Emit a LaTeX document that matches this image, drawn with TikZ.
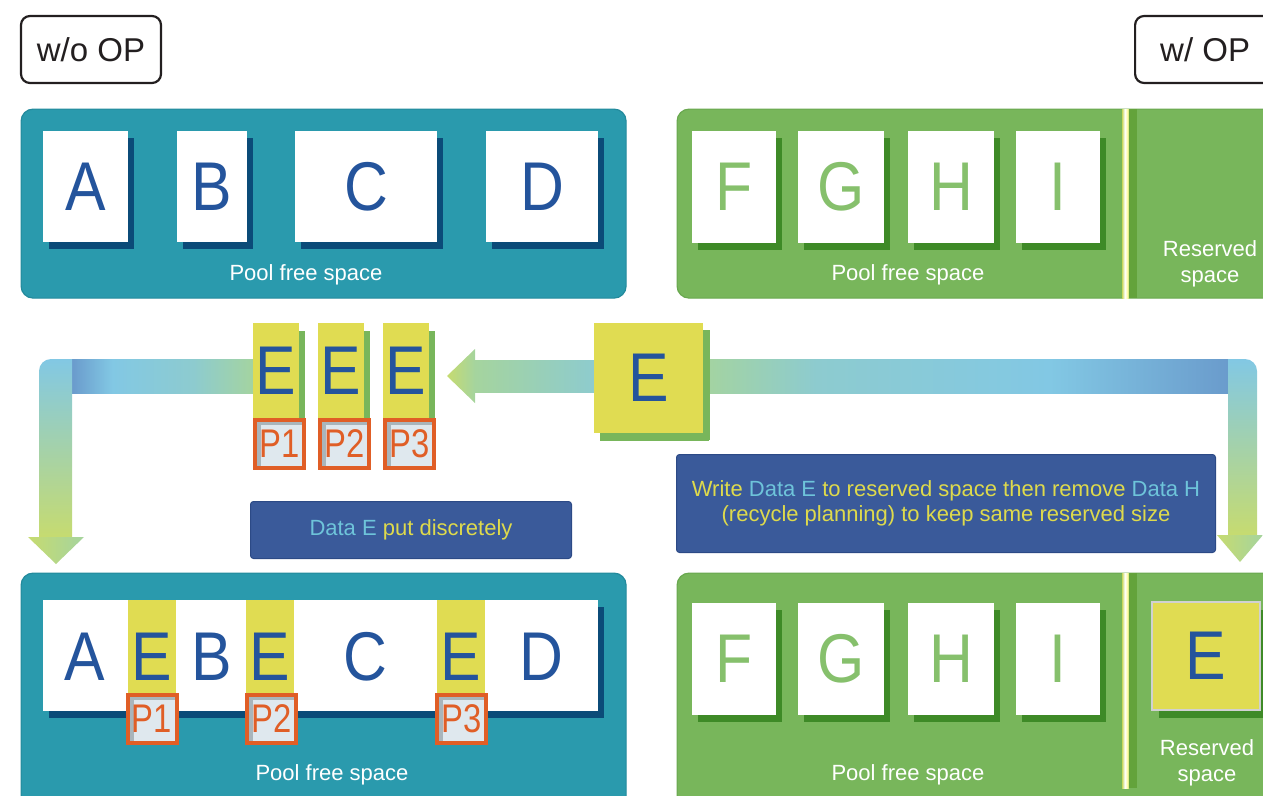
\documentclass[tikz,border=0pt]{standalone}
\usepackage{fontspec}
\setmainfont{Liberation Sans}
\usetikzlibrary{shadows}

\definecolor{poolteal}{HTML}{2A9AAD}
\definecolor{pooltealedge}{HTML}{238A9C}
\definecolor{poolgreen}{HTML}{78B65B}
\definecolor{poolgreenedge}{HTML}{69A84F}
\definecolor{shadowblue}{HTML}{0B4B78}
\definecolor{shadowgreen}{HTML}{3E8A27}
\definecolor{letterblue}{HTML}{24549C}
\definecolor{lettergreen}{HTML}{86C06C}
\definecolor{datayellow}{HTML}{E0DC52}
\definecolor{porange}{HTML}{E05E26}
\definecolor{pfill}{HTML}{DFE8EE}
\definecolor{pgray}{HTML}{A9B5BB}
\definecolor{notebg}{HTML}{3A5A9A}
\definecolor{noteedge}{HTML}{2C4A86}
\definecolor{notecyan}{HTML}{6EC4DA}
\definecolor{noteyellow}{HTML}{DEDA4C}
\definecolor{bandblue}{HTML}{6A9BCC}
\definecolor{bandsky}{HTML}{82C8E4}
\definecolor{bandteal}{HTML}{8DCBCF}
\definecolor{bandlime}{HTML}{C6DB70}
\definecolor{bandmint}{HTML}{A5D49E}
\definecolor{divlight}{HTML}{C8D85E}
\definecolor{divdark}{HTML}{63A33B}
\definecolor{tagblack}{HTML}{231F20}

% gradients of the horizontal flow bands (visible range 25bp..75bp)
\pgfdeclarehorizontalshading{bandleft}{100bp}{color(0bp)=(bandblue); color(25bp)=(bandblue);
  color(36bp)=(bandsky); color(58bp)=(bandteal); color(75bp)=(bandmint); color(100bp)=(bandmint)}
\pgfdeclarehorizontalshading{bandright}{100bp}{color(0bp)=(bandmint); color(25bp)=(bandmint);
  color(36bp)=(bandteal); color(58bp)=(bandsky); color(75bp)=(bandblue); color(100bp)=(bandblue)}
\pgfdeclarehorizontalshading{divstripe}{100bp}{color(0bp)=(divlight); color(25bp)=(divlight);
  color(45bp)=(white); color(60bp)=(white!70!yellow); color(75bp)=(divlight); color(100bp)=(divlight)}

\newcommand{\bigltr}[1]{\scalebox{0.88}[1]{\fontsize{69}{69}\selectfont #1}}
\newcommand{\pltr}[1]{\scalebox{0.82}[1]{\fontsize{40}{40}\selectfont #1}}

\begin{document}
\begin{tikzpicture}[x=1pt,y=1pt,
  tag/.style={draw=tagblack, line width=2.2pt, rounded corners=9pt, fill=white,
    minimum width=140pt, minimum height=67pt, inner sep=0pt, text=tagblack,
    font=\fontsize{33}{33}\selectfont},
  tealpool/.style={fill=poolteal, draw=pooltealedge, line width=1.2pt,
    rounded corners=12pt, anchor=north west, inner sep=0pt},
  greenpool/.style={fill=poolgreen, draw=poolgreenedge, line width=1.2pt,
    rounded corners=12pt, anchor=north west, inner sep=0pt},
  pooltext/.style={text=white, font=\fontsize{22}{22}\selectfont, align=center,
    inner sep=0pt},
  blueblk/.style={fill=white, anchor=north west, inner sep=0pt, text=letterblue,
    minimum height=111pt,
    drop shadow={shadow xshift=6pt, shadow yshift=-7pt, fill=shadowblue, opacity=1}},
  greenblk/.style={fill=white, anchor=north west, inner sep=0pt, text=lettergreen,
    minimum height=112pt,
    drop shadow={shadow xshift=6pt, shadow yshift=-7pt, fill=shadowgreen, opacity=1}},
  ebox/.style={fill=datayellow, anchor=north west, inner sep=0pt, text=letterblue,
    minimum width=46pt, minimum height=95pt,
    drop shadow={shadow xshift=6pt, shadow yshift=-8pt, fill=poolgreen, opacity=1}},
  ecol/.style={fill=datayellow, anchor=north west, inner sep=0pt,
    minimum width=48pt, minimum height=93pt},
  ltr/.style={text=letterblue, inner sep=0pt},
  pbox/.style={draw=porange, line width=4pt, fill=pfill, inner sep=0pt,
    minimum width=49pt, minimum height=48pt, text=porange,
    path picture={
      \fill[pgray] (path picture bounding box.north west) rectangle
        ([xshift=6pt]path picture bounding box.south west);
      \fill[pgray] (path picture bounding box.north west) rectangle
        ([yshift=-5pt]path picture bounding box.north east);
    }},
  note/.style={fill=notebg, draw=noteedge, line width=1pt, rounded corners=3pt,
    anchor=north west, inner sep=0pt, text=noteyellow,
    font=\fontsize{22}{25}\selectfont, align=center},
]
\useasboundingbox (0,0) rectangle (1263,-795);

% ---------- headers ----------
\node[tag] (tagL) at (91,-49.5) {w/o OP};
\node[tag, anchor=west] (tagR) at (1134,-49.5) {w/ OP};

% ---------- top left pool ----------
\node[tealpool, minimum width=605pt, minimum height=189pt] (poolTL) at (20.5,-108.5) {};
\node[blueblk, minimum width=85pt]  (A1) at (43,-131)  {\bigltr{A}};
\node[blueblk, minimum width=70pt]  (B1) at (177,-131) {\bigltr{B}};
\node[blueblk, minimum width=142pt] (C1) at (295,-131) {\bigltr{C}};
\node[blueblk, minimum width=112pt] (D1) at (486,-131) {\bigltr{D}};
\node[pooltext] (lblTL) at (306,-275) {Pool free space};

% ---------- top right pool ----------
\node[greenpool, minimum width=640pt, minimum height=189pt] (poolTR) at (676.5,-108.5) {};
\node[greenblk, minimum width=84pt] (F1) at (692,-131)  {\bigltr{F}};
\node[greenblk, minimum width=86pt] (G1) at (798,-131)  {\bigltr{G}};
\node[greenblk, minimum width=86pt] (H1) at (908,-131)  {\bigltr{H}};
\node[greenblk, minimum width=84pt] (I1) at (1016,-131) {\bigltr{I}};
\shade[shading=divstripe] (1122,-109) rectangle (1129,-298);
\fill[divdark] (1129,-109) rectangle (1137,-298);
\node[pooltext] (lblTR) at (908,-275) {Pool free space};
\node[pooltext] (resTR) at (1210,-264) {Reserved\\[4pt]space};

% ---------- flow bands ----------
\coordinate (ltip) at (56,-564);
\coordinate (mtip) at (447,-376);
\coordinate (rtip) at (1240,-562);

% left: from the split blocks round to the lower left pool
\shade[shading=bandleft] (72,-359) rectangle (256,-393);
\shade[top color=bandsky, middle color=bandteal, bottom color=bandlime]
  (39,-537) -- (39,-371) arc[start angle=180, end angle=90, radius=12]
  -- (72,-359) -- (72,-537) -- cycle;
\shade[left color=bandlime, right color=bandmint]
  (28,-537) -- (84,-537) -- (ltip) -- cycle;

% middle: from the new data to the split blocks
\shade[left color=bandmint, right color=bandteal] (475,-360) rectangle (597,-392);
\shade[left color=bandlime, right color=bandmint]
  (475,-349) -- (mtip) -- (475,-403) -- cycle;

% right: from the new data round to the lower right pool
\shade[shading=bandright] (700,-359) rectangle (1229,-393);
\shade[top color=bandsky, middle color=bandteal, bottom color=bandlime]
  (1228,-535) -- (1228,-359) -- (1245,-359)
  arc[start angle=90, end angle=0, radius=12] -- (1257,-535) -- cycle;
\shade[left color=bandlime, right color=bandmint]
  (1217,-535) -- (1263,-535) -- (rtip) -- cycle;

% ---------- new data E and its pieces ----------
\node[ebox] (Ea) at (253,-323) {\bigltr{E}};
\node[ebox] (Eb) at (318,-323) {\bigltr{E}};
\node[ebox] (Ec) at (383,-323) {\bigltr{E}};
\node[pbox] (Pa) at (279.5,-444) {\pltr{P1}};
\node[pbox] (Pb) at (344.5,-444) {\pltr{P2}};
\node[pbox] (Pc) at (409.5,-444) {\pltr{P3}};

\node[ebox, minimum width=109pt, minimum height=110pt,
  drop shadow={shadow xshift=7pt, shadow yshift=-7pt, fill=poolgreen, opacity=1}]
  (Enew) at (594,-323) {\bigltr{E}};

% ---------- notes ----------
\node[note, minimum width=321pt, minimum height=57pt] (note1) at (250,-501)
  {\textcolor{notecyan}{Data E} put discretely};
\node[note, minimum width=539pt, minimum height=98pt] (note2) at (676,-454)
  {Write \textcolor{notecyan}{Data E} to reserved space then remove \textcolor{notecyan}{Data H}\\
   (recycle planning) to keep same reserved size};

% ---------- bottom left pool ----------
\node[tealpool, minimum width=605pt, minimum height=260pt] (poolBL) at (20.5,-572.5) {};
\node[blueblk, minimum width=555pt] (strip) at (43,-600) {};
\node[ecol] (col1) at (128,-600) {};
\node[ecol] (col2) at (246,-600) {};
\node[ecol] (col3) at (437,-600) {};
\node[ltr] (A2) at (85,-657)  {\bigltr{A}};
\node[ltr] (E1) at (152,-657) {\bigltr{E}};
\node[ltr] (B2) at (212,-657) {\bigltr{B}};
\node[ltr] (E2) at (270,-657) {\bigltr{E}};
\node[ltr] (C2) at (365,-657) {\bigltr{C}};
\node[ltr] (E3) at (461,-657) {\bigltr{E}};
\node[ltr] (D2) at (541,-657) {\bigltr{D}};
\node[pbox] (P1b) at (152,-719)   {\pltr{P1}};
\node[pbox] (P2b) at (271.5,-719) {\pltr{P2}};
\node[pbox] (P3b) at (461.5,-719) {\pltr{P3}};
\node[pooltext] (lblBL) at (332,-775) {Pool free space};

% ---------- bottom right pool ----------
\node[greenpool, minimum width=640pt, minimum height=260pt] (poolBR) at (676.5,-572.5) {};
\node[greenblk, minimum width=84pt] (F2) at (692,-603)  {\bigltr{F}};
\node[greenblk, minimum width=86pt] (G2) at (798,-603)  {\bigltr{G}};
\node[greenblk, minimum width=86pt] (H2) at (908,-603)  {\bigltr{H}};
\node[greenblk, minimum width=84pt] (I2) at (1016,-603) {\bigltr{I}};
\shade[shading=divstripe] (1122,-573) rectangle (1129,-788);
\fill[divdark] (1129,-573) rectangle (1137,-788);
\node[fill=datayellow, draw=black!18, line width=2pt, anchor=north west, inner sep=0pt,
  minimum width=108pt, minimum height=108pt, text=letterblue,
  drop shadow={shadow xshift=7pt, shadow yshift=-8pt, fill=shadowgreen, opacity=1}]
  (Eres) at (1151,-601) {\bigltr{E}};
\node[pooltext] (lblBR) at (908,-775) {Pool free space};
\node[pooltext] (resBR) at (1207,-763) {Reserved\\[4pt]space};
\end{tikzpicture}
\end{document}
